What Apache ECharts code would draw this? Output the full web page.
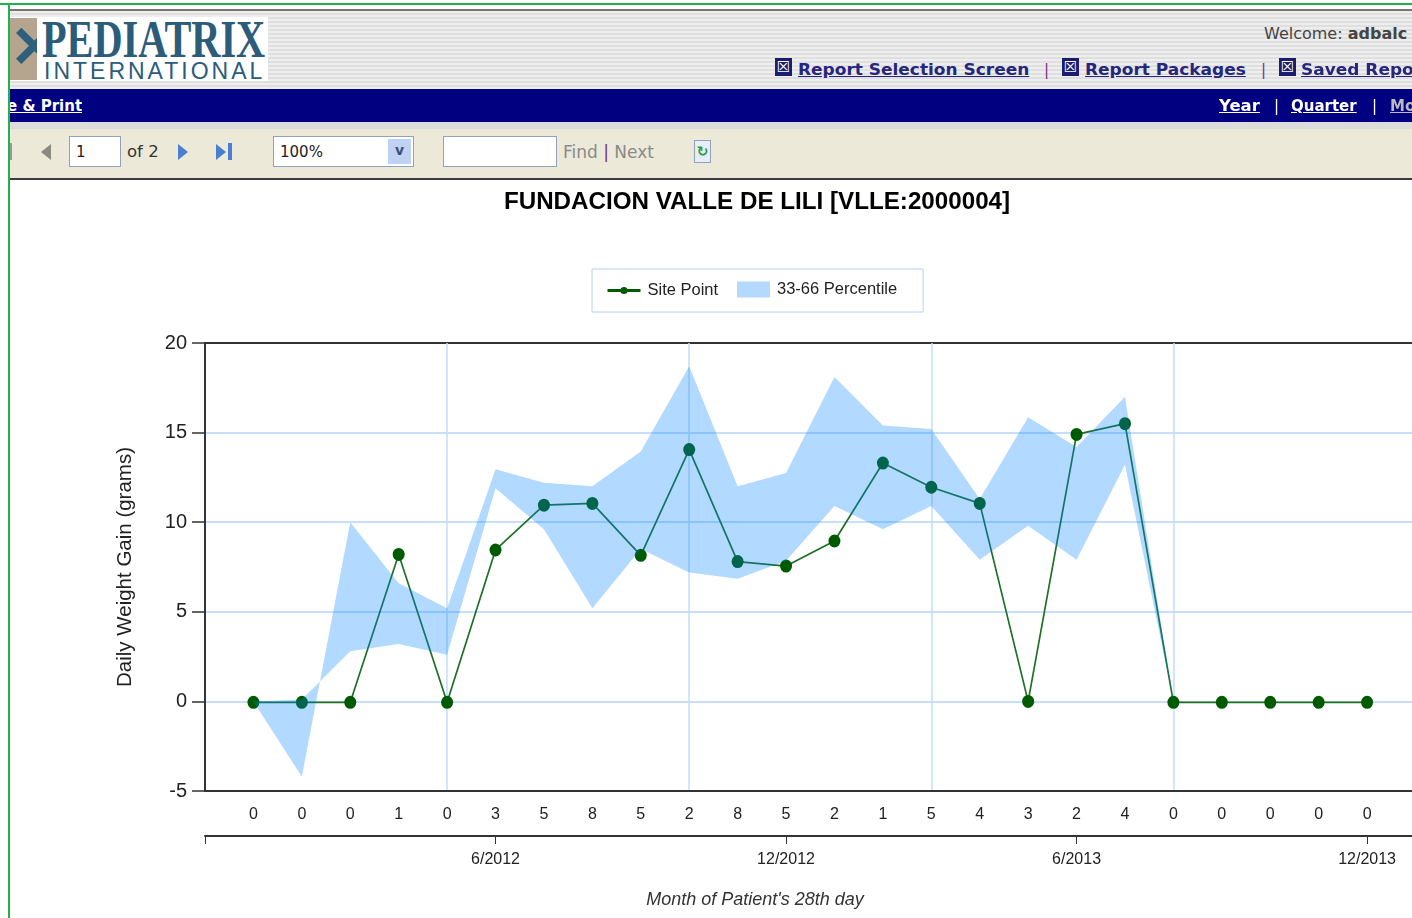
<!DOCTYPE html>
<html>
<head>
<meta charset="utf-8">
<title>Daily Weight Gain</title>
<script src="https://cdn.jsdelivr.net/npm/echarts@6/dist/echarts.min.js"></script>
<style>
html,body{margin:0;padding:0;width:1412px;height:918px;overflow:hidden;background:#fff;}
#charts{position:absolute;left:0;top:0;width:1412px;height:918px;}
.abs{position:absolute;white-space:nowrap;}
#frameTop{left:0;top:3px;width:1412px;height:2px;background:#22b14c;}
#frameLeft{left:8px;top:3px;width:2px;height:915px;background:#22b14c;}
#head{left:10px;top:9px;width:1402px;height:80px;border-top:2px solid #77756c;box-sizing:border-box;
 background:repeating-linear-gradient(#eeeeee 0,#eeeeee 2px,#dfdfdf 2px,#dfdfdf 4px);}
#logo{left:10px;top:17px;width:258px;height:64px;background:#fff;overflow:hidden;}
#logoBox{left:0;top:1px;width:27px;height:62px;background:#b5a48e;color:#2e5f7c;font:bold 58px "Liberation Sans";line-height:58px;overflow:hidden;}
#logo1{left:32px;top:-7px;font:bold 52px "Liberation Serif";color:#2b5c7a;transform:scaleX(.775);transform-origin:left top;}
#logo2{left:34px;top:41px;font:23px "Liberation Sans";color:#2b5c7a;letter-spacing:3px;}
.link{font:bold 15.5px "DejaVu Sans";color:#26267e;text-decoration:underline;transform:scaleX(1.095);transform-origin:left top;}
.ico{width:17px;height:18px;top:58px;background:#1c1c70;color:#fff;font:bold 15px/18px "DejaVu Sans";text-align:center;}
.sep{font:15px "DejaVu Sans";color:#7b2f8a;}
#nav{left:10px;top:89px;width:1402px;height:33px;background:#000080;}
.nlink{font:bold 15px "DejaVu Sans";color:#fff;text-decoration:underline;top:97px;}
#strip{left:10px;top:122px;width:1402px;height:7px;background:#dcdcdc;}
#tool{left:10px;top:129px;width:1402px;height:49px;background:#ece9d8;}
#rule{left:10px;top:178px;width:1402px;height:2px;background:#3c3c3c;}
.box{background:#fff;border:1px solid #8fa3bd;box-sizing:border-box;font:15px/31px "DejaVu Sans";color:#222;padding-left:6px;}
.tt{font:17px "DejaVu Sans";color:#333;top:142px;}
.tri{width:0;height:0;border-top:8px solid transparent;border-bottom:8px solid transparent;}
</style>
</head>
<body>
<div id="charts"></div>
<div class="abs" id="head"></div>
<div class="abs" id="frameTop"></div>
<div class="abs" id="frameLeft"></div>
<div class="abs" id="logo">
 <div class="abs" id="logoBox">&#10005;</div>
 <div class="abs" id="logo1">PEDIATRIX</div>
 <div class="abs" id="logo2">INTERNATIONAL</div>
</div>
<div class="abs" style="left:1264px;top:24px;font:16px 'DejaVu Sans';color:#444;">Welcome: <b>adbalc</b></div>
<div class="abs ico" style="left:775px;">&#9746;</div>
<div class="abs link" style="left:798px;top:61px;">Report Selection Screen</div>
<div class="abs sep" style="left:1044px;top:61px;">|</div>
<div class="abs ico" style="left:1062px;">&#9746;</div>
<div class="abs link" style="left:1085px;top:61px;">Report Packages</div>
<div class="abs sep" style="left:1261px;top:61px;">|</div>
<div class="abs ico" style="left:1279px;">&#9746;</div>
<div class="abs link" style="left:1301px;top:61px;">Saved Reports</div>
<div class="abs" id="nav"></div>
<div class="abs nlink" style="left:10px;width:72px;overflow:hidden;"><span style="margin-left:-3px;">e &amp; Print</span></div>
<div class="abs nlink" style="left:1219px;transform:scaleX(1.1);transform-origin:left top;">Year</div>
<div class="abs nlink" style="left:1274px;text-decoration:none;font-weight:normal;">|</div>
<div class="abs nlink" style="left:1291px;">Quarter</div>
<div class="abs nlink" style="left:1372px;text-decoration:none;font-weight:normal;">|</div>
<div class="abs nlink" style="left:1390px;color:#bbb;">Month</div>
<div class="abs" id="strip"></div>
<div class="abs" id="tool"></div>
<div class="abs" id="rule"></div>
<div class="abs" style="left:10px;top:143px;width:2px;height:17px;background:#9a9a90;"></div>
<div class="abs tri" style="left:41px;top:144px;border-right:10px solid #8a8a80;"></div>
<div class="abs box" style="left:69px;top:136px;width:52px;height:31px;">1</div>
<div class="abs tt" style="left:127px;font-size:16.5px;">of 2</div>
<div class="abs tri" style="left:178px;top:144px;border-left:10px solid #4a7fd0;"></div>
<div class="abs tri" style="left:216px;top:144px;border-left:10px solid #4a7fd0;"></div>
<div class="abs" style="left:228px;top:143px;width:4px;height:17px;background:#4a7fd0;"></div>
<div class="abs box" style="left:273px;top:136px;width:141px;height:31px;">100%</div>
<div class="abs" style="left:388px;top:139px;width:23px;height:25px;background:#c0d2f3;color:#3c4f78;font:bold 14px/23px 'DejaVu Sans';text-align:center;">v</div>
<div class="abs box" style="left:443px;top:136px;width:114px;height:31px;"></div>
<div class="abs tt" style="left:563px;color:#8a8a8a;">Find <span style="color:#7b2f8a;">|</span> Next</div>
<div class="abs" style="left:694px;top:140px;width:17px;height:23px;background:#e8eef5;border:1px solid #8fa3bd;box-sizing:border-box;color:#2a9a40;font:bold 14px/21px 'DejaVu Sans';text-align:center;">&#8635;</div>
<script>
const chartTitle='FUNDACION VALLE DE LILI [VLLE:2000004]';
const xAxisTitle="Month of Patient's 28th day";
const yAxisTitle='Daily Weight Gain (grams)';
const sitePoint=[-0.05,-0.05,-0.05,8.2,-0.05,8.45,10.95,11.05,8.15,14.05,7.8,7.55,8.95,13.3,11.95,11.05,0,14.9,15.5,-0.05,-0.05,-0.05,-0.05,-0.05];
//第2个点上下边交叉，和原图一样
const bandUpper=[0,-4.2,10,6.6,5.2,12.95,12.2,12,13.95,18.7,12,12.75,18.1,15.4,15.2,11.3,15.85,14.2,17,0,0,0,0,0];
const bandLower=[0,0.1,2.8,3.2,2.6,11.9,9.6,5.2,8.5,7.2,6.85,7.85,10.9,9.6,10.9,7.9,9.8,7.9,13.2,0,0,0,0,0];
const patientCounts=[0,0,0,1,0,3,5,8,5,2,8,5,2,1,5,4,3,2,4,0,0,0,0,0];
const monthTicks={6:'6/2012',12:'12/2012',18:'6/2013',24:'12/2013'};

const SANS='"Liberation Sans"';
const GRID_LINE='#c2dcfb';
const AXIS_DARK='#333333';
const LEGEND_TEXT={fontFamily:SANS,fontSize:16.5,color:'#222',padding:[0,0,0,2]};

var charts=echarts.init(document.getElementById('charts'));
var siteData=sitePoint.map((v,i)=>[i+1,v]);
var bandData=bandUpper.map((v,i)=>[i+1,v,bandLower[i]]);

function renderBand(params,api) {
    if(params.dataIndex!=0) return null; //整条带子只画一次
    var pts=[];
    for(var i=0;i<bandData.length;i++) pts.push(api.coord([bandData[i][0],bandData[i][1]]));
    for(var i=bandData.length-1;i>=0;i--) pts.push(api.coord([bandData[i][0],bandData[i][2]]));
    return {type:'polygon',shape:{points:pts},style:{fill:'rgba(0,128,255,0.3)'}};
}

charts.setOption({
    animation:false,
    title:[
        {text:chartTitle,left:752,top:185,textAlign:'center',
         textStyle:{fontFamily:SANS,fontSize:24.2,fontWeight:'bold',color:'#000'}},
        {text:xAxisTitle,left:750,top:886,textAlign:'center',
         textStyle:{fontFamily:SANS,fontSize:18,fontStyle:'italic',fontWeight:'normal',color:'#333'}}
    ],
    //两个图例：图标高度不同，框画在第一个上
    legend:[
        {left:592,top:269,padding:[13,205,13,14],itemWidth:33,itemHeight:9,
         backgroundColor:'#fff',borderColor:'#b5d0f2',borderWidth:1,textStyle:LEGEND_TEXT,
         data:[{name:'Site Point',lineStyle:{width:3,color:'#005a00'}}]},
        {left:737,top:281,padding:0,itemWidth:33,itemHeight:16,z:5,textStyle:LEGEND_TEXT,
         data:[{name:'33-66 Percentile',icon:'rect'}]}
    ],
    grid:{left:205,top:343,width:1210.5,height:448,show:true,borderColor:AXIS_DARK,borderWidth:2,outerBoundsMode:'none'},
    xAxis:[
        {type:'value',min:0,max:25,interval:5,position:'bottom',
         axisLine:{show:true,onZero:false,lineStyle:{color:AXIS_DARK,width:2}},
         axisTick:{show:false},axisLabel:{show:false},
         splitLine:{show:true,lineStyle:{color:GRID_LINE,width:1.5}}},
        {type:'value',min:0,max:25,interval:1,position:'bottom',offset:0,
         axisLine:{show:false,onZero:false},axisTick:{show:false},splitLine:{show:false},
         axisLabel:{show:true,margin:16,fontFamily:SANS,fontSize:16,color:'#222',
            formatter:v=>(v>=1&&v<=patientCounts.length)?String(patientCounts[v-1]):''}},
        {type:'value',min:0,max:25,interval:6,position:'bottom',offset:45,
         axisLine:{show:true,onZero:false,lineStyle:{color:AXIS_DARK,width:2}},
         axisTick:{show:true,length:8,inside:false,lineStyle:{color:AXIS_DARK,width:1}},
         splitLine:{show:false},
         axisLabel:{show:true,margin:16,fontFamily:SANS,fontSize:16,color:'#222',
            formatter:v=>monthTicks[v]||''}}
    ],
    yAxis:{type:'value',min:-5,max:20,interval:5,
        name:yAxisTitle,nameLocation:'middle',nameGap:69,nameRotate:90,
        nameTextStyle:{fontFamily:SANS,fontSize:20.5,color:'#222'},
        axisLine:{show:true,onZero:false,lineStyle:{color:AXIS_DARK,width:2}},
        axisTick:{show:true,length:13,lineStyle:{color:AXIS_DARK,width:1.5}},
        axisLabel:{margin:18,fontFamily:SANS,fontSize:20,color:'#222'},
        splitLine:{show:true,showMinLine:false,showMaxLine:false,lineStyle:{color:'#b5d5fb',width:1.5}}},
    series:[
        {name:'Site Point',type:'line',data:siteData,z:2,symbol:'circle',symbolSize:[12,13],silent:true,
         lineStyle:{color:'#1e7024',width:1.7},itemStyle:{color:'#005a00'}},
        {name:'33-66 Percentile',type:'custom',data:bandData,z:3,silent:true,renderItem:renderBand,
         encode:{x:0,y:[1,2]},itemStyle:{color:'#b3d9ff'}}
    ]
});
</script>
</body>
</html>
